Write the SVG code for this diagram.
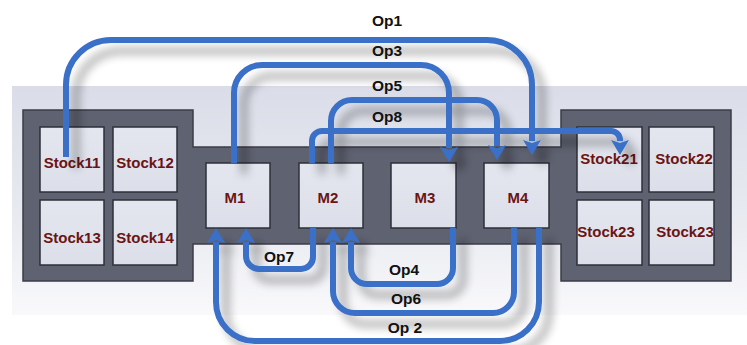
<svg xmlns="http://www.w3.org/2000/svg" width="747" height="345" viewBox="0 0 747 345">
  <defs>
    <linearGradient id="bg" x1="0" y1="0" x2="0" y2="1">
      <stop offset="0" stop-color="#dadde8"/>
      <stop offset="0.6" stop-color="#e9ebf1"/>
      <stop offset="1" stop-color="#f9f9fb"/>
    </linearGradient>
    <linearGradient id="boxg" x1="0" y1="0" x2="0" y2="1">
      <stop offset="0" stop-color="#e4e6ef"/>
      <stop offset="1" stop-color="#dcdfe9"/>
    </linearGradient>
    <filter id="shadow" x="-10%" y="-10%" width="130%" height="130%">
      <feGaussianBlur in="SourceAlpha" stdDeviation="5"/>
      <feOffset dx="10" dy="11" result="b"/>
      <feComponentTransfer in="b" result="s">
        <feFuncA type="linear" slope="0.36"/>
      </feComponentTransfer>
      <feMerge>
        <feMergeNode in="s"/>
        <feMergeNode in="SourceGraphic"/>
      </feMerge>
    </filter>
    <marker id="arr" viewBox="0 -9 15 18" refX="1" refY="0" markerWidth="15" markerHeight="18" markerUnits="userSpaceOnUse" orient="auto">
      <path d="M0,-9 L15,0 L0,9 L3,0 Z" fill="#3a70c8"/>
    </marker>
    <style>
      .blk{fill:#5f6271;stroke:#3b3d47;stroke-width:1.5}
      .box{fill:url(#boxg);stroke:#2e3038;stroke-width:1.5}
      .lbl{font-family:"Liberation Sans",Arial,sans-serif;font-weight:bold;font-size:15px;fill:#6b1414;text-anchor:middle}
      .op{font-family:"Liberation Sans",Arial,sans-serif;font-weight:bold;font-size:15.5px;fill:#111;text-anchor:middle}
      .ln{fill:none;stroke:#3a70c8;stroke-width:6}
      .ar{marker-end:url(#arr)}
    </style>
  </defs>

  <rect x="12" y="86" width="735" height="229" fill="url(#bg)"/>

  <path class="blk" d="M23,110 H193 V147 H561 V110 H731 V281 H561 V244 H193 V281 H23 Z"/>

  <g id="stock11"><rect class="box" x="40" y="127" width="64" height="65"/><text class="lbl" x="72" y="168">Stock11</text></g>
  <g id="stock12"><rect class="box" x="113" y="127" width="64" height="65"/><text class="lbl" x="145" y="168">Stock12</text></g>
  <g id="stock13"><rect class="box" x="40" y="200" width="64" height="65"/><text class="lbl" x="72" y="243">Stock13</text></g>
  <g id="stock14"><rect class="box" x="113" y="200" width="64" height="65"/><text class="lbl" x="145" y="243">Stock14</text></g>
  <g id="stock21"><rect class="box" x="577" y="127" width="65" height="65"/><text class="lbl" x="609" y="164">Stock21</text></g>
  <g id="stock22"><rect class="box" x="649" y="127" width="65" height="65"/><text class="lbl" x="684" y="164">Stock22</text></g>
  <g id="stock23a"><rect class="box" x="577" y="200" width="65" height="65"/><text class="lbl" x="606" y="237">Stock23</text></g>
  <g id="stock23b"><rect class="box" x="649" y="200" width="65" height="65"/><text class="lbl" x="685" y="237">Stock23</text></g>

  <g id="m1"><rect class="box" x="206" y="163" width="64" height="65"/><text class="lbl" x="235" y="203">M1</text></g>
  <g id="m2"><rect class="box" x="299" y="163" width="64" height="65"/><text class="lbl" x="328" y="203">M2</text></g>
  <g id="m3"><rect class="box" x="391" y="163" width="65" height="65"/><text class="lbl" x="425" y="203">M3</text></g>
  <g id="m4"><rect class="box" x="484" y="163" width="65" height="65"/><text class="lbl" x="518" y="203">M4</text></g>

  <g id="connectors" filter="url(#shadow)">
    <path class="ln ar" d="M66,157 V85 A45,45 0 0 1 111,40 H487 A45,45 0 0 1 532,85 V141"/>
    <path class="ln ar" d="M234,163 V93 A28,28 0 0 1 262,65 H421 A28,28 0 0 1 449,93 V148"/>
    <path class="ln ar" d="M331,163 V121 A21,21 0 0 1 352,100 H477 A20,20 0 0 1 497,120 V146"/>
    <path class="ln ar" d="M312,163 V141 A10,10 0 0 1 322,131 H611 A9,9 0 0 1 620,140 V141"/>
    <path class="ln ar" d="M313,228 V257 A12,12 0 0 1 301,269 H259 A13,13 0 0 1 246,256 V242"/>
    <path class="ln ar" d="M453,228 V268 A16,16 0 0 1 437,284 H367 A16,16 0 0 1 351,268 V242"/>
    <path class="ln ar" d="M514,228 V292 A21,21 0 0 1 493,313 H355 A22,22 0 0 1 333,291 V242"/>
    <path class="ln ar" d="M539,228 V302 A39,39 0 0 1 500,341 H255 A39,39 0 0 1 216,302 V242"/>
  </g>

  <g id="labels">
    <text class="op" x="387" y="26">Op1</text>
    <text class="op" x="387" y="56">Op3</text>
    <text class="op" x="387" y="91">Op5</text>
    <text class="op" x="387" y="122">Op8</text>
    <text class="op" x="279" y="262">Op7</text>
    <text class="op" x="404" y="275">Op4</text>
    <text class="op" x="406" y="304">Op6</text>
    <text class="op" x="405" y="333">Op 2</text>
  </g>
</svg>
